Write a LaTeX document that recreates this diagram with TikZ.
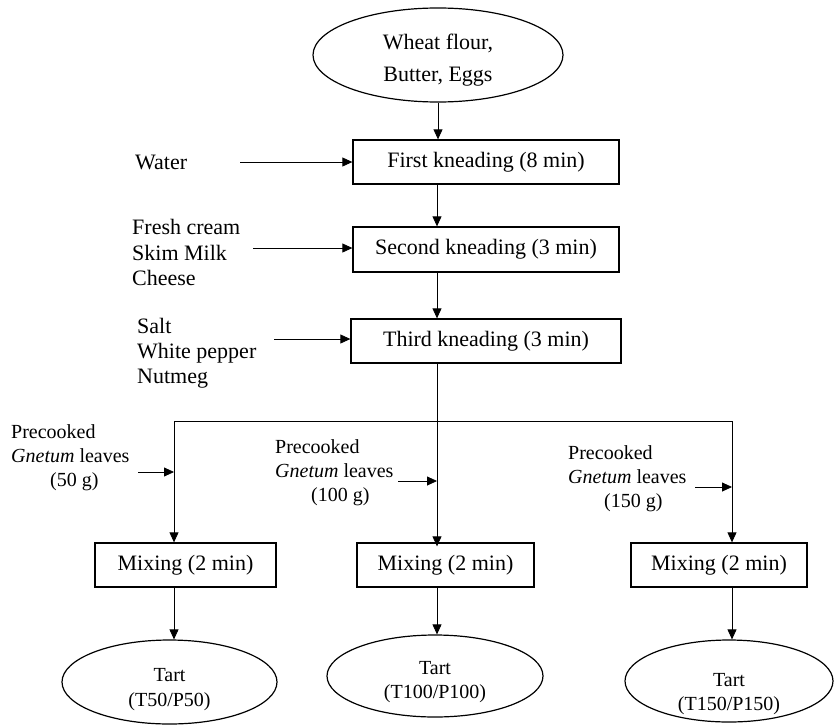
\documentclass[tikz,border=0pt]{standalone}
\usepackage{fontspec}
\setmainfont{Liberation Serif}
\usetikzlibrary{arrows.meta,shapes.geometric}
\begin{document}
\begin{tikzpicture}[x=1pt,y=-1pt,
 proc/.style={draw,line width=1.3pt,minimum height=44pt,inner sep=0pt,font=\fontsize{22}{25}\selectfont},
 oval/.style={draw,ellipse,line width=1.2pt,inner sep=0pt},
 otext/.style={inner sep=0pt,align=center},
 lbl/.style={inner sep=0pt,anchor=west,align=left},
 arr/.style={line width=0.8pt,-{Triangle[length=10pt,width=9pt]}},
 ln/.style={line width=0.8pt}]
\useasboundingbox (0,0) rectangle (834,725);
% main nodes
\node[oval,minimum width=250pt,minimum height=94pt] (src) at (438,55) {};
\node[otext,font=\fontsize{22}{32}\selectfont] (srctxt) at ([yshift=-5pt]src.center) {Wheat flour,\\Butter, Eggs};
\node[proc,minimum width=266pt] (k1) at (486,162) {First kneading (8 min)};
\node[proc,minimum width=266pt,minimum height=45pt] (k2) at (486,249.5) {Second kneading (3 min)};
\node[proc,minimum width=270pt] (k3) at (486,341) {Third kneading (3 min)};
\node[proc,minimum width=181pt] (m1) at (185.5,565) {Mixing (2 min)};
\node[proc,minimum width=177pt] (m2) at (445.5,565) {Mixing (2 min)};
\node[proc,minimum width=176pt] (m3) at (719,565) {Mixing (2 min)};
\node[oval,minimum width=215pt,minimum height=84pt] (t1) at (169.5,682) {};
\node[oval,minimum width=216pt,minimum height=82pt] (t2) at (435,676) {};
\node[oval,minimum width=208pt,minimum height=82pt] (t3) at (729,681) {};
\node[otext,font=\fontsize{20}{25}\selectfont] (t1txt) at ([yshift=-8pt]t1.center) {Tart\\(T50/P50)};
\node[otext,font=\fontsize{20}{24}\selectfont] (t2txt) at ([yshift=-6pt]t2.center) {Tart\\(T100/P100)};
\node[otext,font=\fontsize{20}{24}\selectfont] (t3txt) at ([yshift=-13pt]t3.center) {Tart\\(T150/P150)};
% input labels
\node[lbl,font=\fontsize{22}{25}\selectfont] (water) at (135,162) {Water};
\node[lbl,font=\fontsize{22}{25.5}\selectfont] (dairy) at (132,252.5) {Fresh cream\\Skim Milk\\Cheese};
\node[lbl,font=\fontsize{22}{25}\selectfont] (spice) at (137,353) {Salt\\White pepper\\Nutmeg};
\node[lbl,font=\fontsize{20}{24}\selectfont] (g50) at (11,458) {Precooked\\\textit{Gnetum} leaves\\\hspace*{39pt}(50 g)};
\node[lbl,font=\fontsize{20}{24}\selectfont] (g100) at (275,473) {Precooked\\\textit{Gnetum} leaves\\\hspace*{36pt}(100 g)};
\node[lbl,font=\fontsize{20}{24}\selectfont] (g150) at (568,479) {Precooked\\\textit{Gnetum} leaves\\\hspace*{36pt}(150 g)};
% helper coordinates
\coordinate (spine) at (437,0);
\coordinate (wS) at (240,162);
\coordinate (dS) at (253,248);
\coordinate (sS) at (274,339);
\coordinate (b1) at (174,421);
\coordinate (b3) at (732,421);
\coordinate (g50S) at (138,472);
\coordinate (g100S) at (398,481);
\coordinate (g150S) at (695,487);
% connectors
\draw[arr] (src.south) -- (src.south |- k1.north);
\draw[arr] (k1.south -| spine) -- (k2.north -| spine);
\draw[arr] (k2.south -| spine) -- (k3.north -| spine);
\draw[arr] (k3.south -| spine) -- ([yshift=-4pt]m2.north -| spine);
\draw[ln] (b1) -- (b3);
\draw[arr] (b1) -- (b1 |- m1.north);
\draw[arr] (b3) -- (b3 |- m3.north);
\draw[arr] (wS) -- (k1.west |- wS);
\draw[arr] (dS) -- (k2.west |- dS);
\draw[arr] (sS) -- (k3.west |- sS);
\draw[arr] (g50S) -- (b1 |- g50S);
\draw[arr] (g100S) -- (spine |- g100S);
\draw[arr] (g150S) -- (b3 |- g150S);
\draw[arr] (m1.south -| b1) -- (t1.north -| b1);
\draw[arr] (m2.south -| spine) -- (t2.north -| spine);
\draw[arr] (m3.south -| b3) -- (t3.north -| b3);
\end{tikzpicture}
\end{document}
